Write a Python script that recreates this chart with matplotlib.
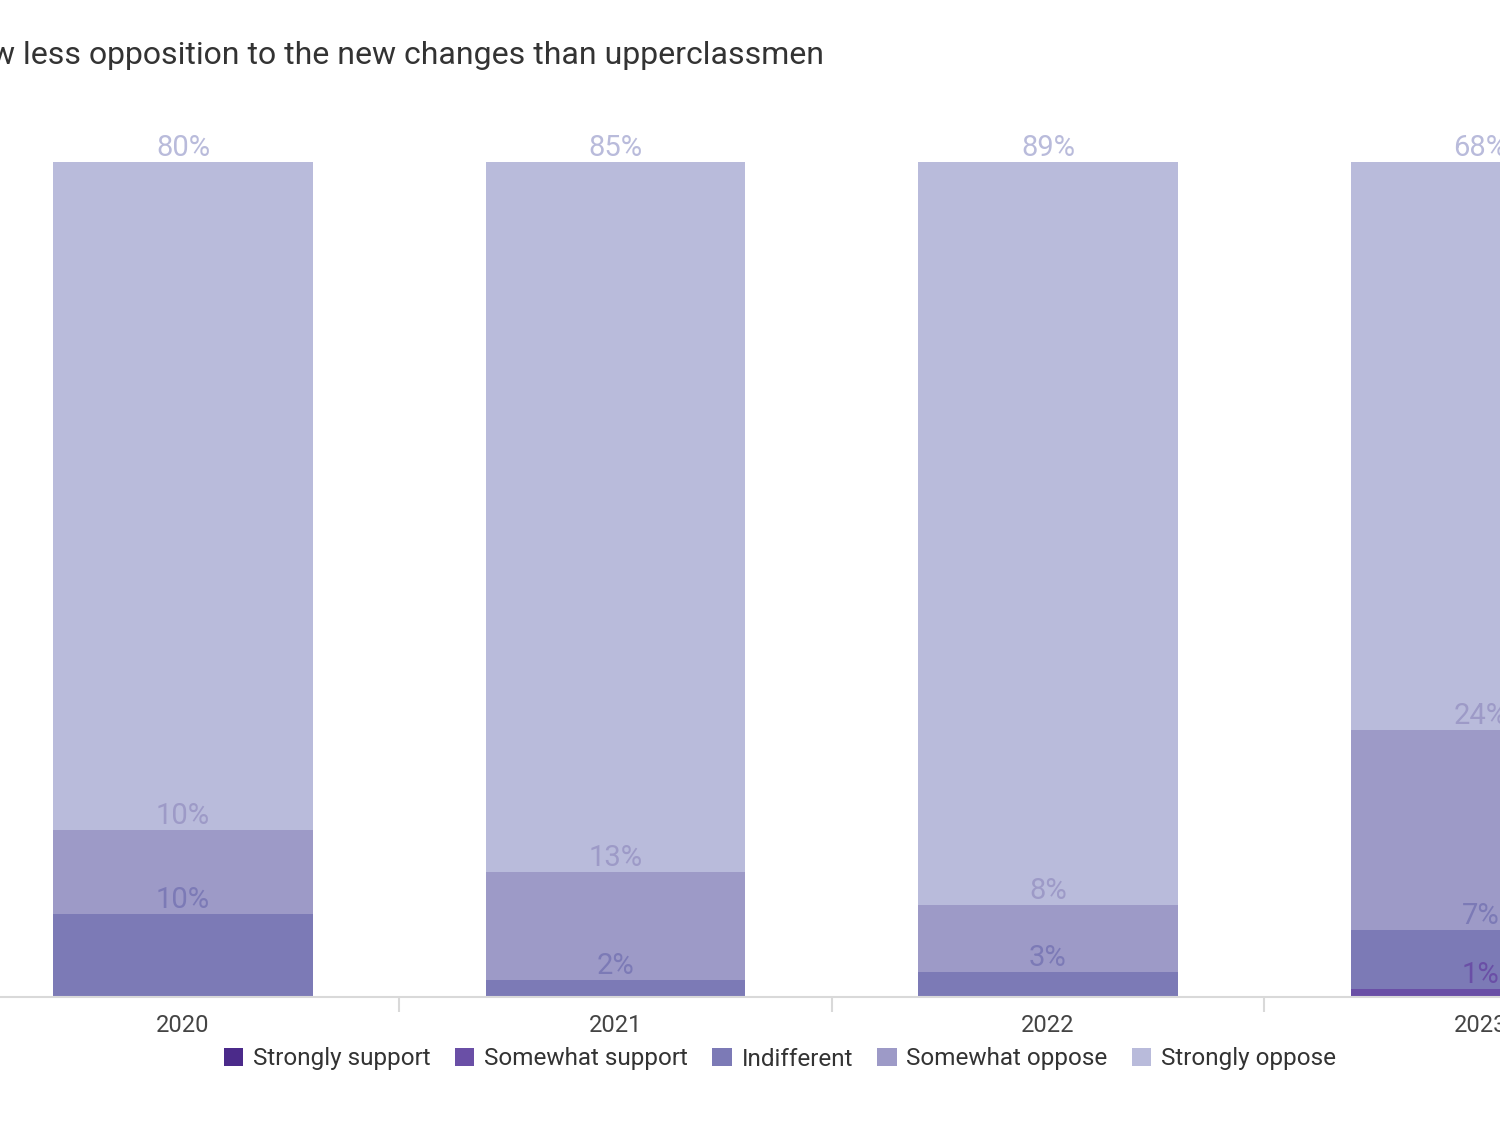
import numpy as np
import matplotlib
matplotlib.use("Agg")
import matplotlib.pyplot as plt
from matplotlib.patches import Patch

plt.rcParams['font.family'] = ['Roboto', 'DejaVu Sans']

years = ['2020', '2021', '2022', '2023']
categories = ['Strongly support', 'Somewhat support', 'Indifferent',
              'Somewhat oppose', 'Strongly oppose']
strongly_support = [0, 0, 0, 0]
somewhat_support = [0, 0, 0, 1]
indifferent = [10, 2, 3, 7]
somewhat_oppose = [10, 13, 8, 24]
strongly_oppose = [80, 85, 89, 68]
title = 'w less opposition to the new changes than upperclassmen'

series = [strongly_support, somewhat_support, indifferent, somewhat_oppose, strongly_oppose]
colors = ['#4b2a8a', '#6a4fa6', '#7c7ab6', '#9d9ac7', '#b9bbdb']

fig = plt.figure(figsize=(15, 11.25), dpi=100)
# axes runs wider than the figure so the last bar gets cut, like the crop
ax = fig.add_axes([0.0, 1 - 997 / 1125, 1.0, 835 / 1125])

x = np.arange(len(years))
bottom = np.zeros(len(years))
for vals, col in zip(series, colors):
    vals = np.array(vals, dtype=float)
    ax.bar(x, vals, width=0.6, bottom=bottom, color=col, linewidth=0)
    for xi, b, v in zip(x, bottom, vals):
        if v > 0:
            ax.text(xi, b + v, '%d%%' % v, ha='center', va='bottom',
                    fontsize=21, color=col, clip_on=False)
    bottom += vals

ax.set_xlim(-183 / 432.5, (1500 - 183) / 432.5)
ax.set_ylim(0, 100)
for s in ['top', 'right', 'left']:
    ax.spines[s].set_visible(False)
ax.spines['bottom'].set_color('#d9d9d9')
ax.spines['bottom'].set_linewidth(1.5)
ax.set_yticks([])
ax.set_xticks(x)
ax.set_xticklabels(years, fontsize=17, color='#444444')
ax.tick_params(axis='x', which='major', length=0, pad=12)
ax.set_xticks([0.5, 1.5, 2.5], minor=True)
ax.tick_params(axis='x', which='minor', length=11, width=1.5, color='#d9d9d9')

fig.text(-0.006, 1 - 55 / 1125, title, fontsize=23, color='#333333',
         ha='left', va='center')

handles = [Patch(facecolor=c, edgecolor='none') for c in colors]
fig.legend(handles, categories, loc='center', bbox_to_anchor=(0.52, 1 - 1059 / 1125),
           ncol=5, frameon=False, fontsize=17.5, handlelength=0.8, handleheight=0.8,
           handletextpad=0.4, columnspacing=1.0, labelcolor='#333333')

fig.savefig('out.png', dpi=100)
